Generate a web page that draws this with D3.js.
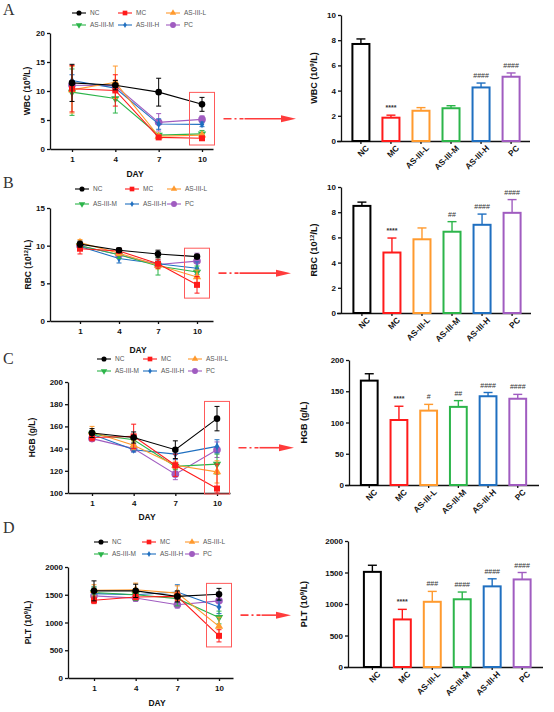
<!DOCTYPE html>
<html><head><meta charset="utf-8">
<script src="https://cdn.jsdelivr.net/npm/d3@7"></script>
<style>body{margin:0;background:#fff}svg{display:block}</style>
</head><body><svg id="c" width="554" height="712"></svg>
<script>
// ---------- data ----------
const days = [1, 4, 7, 10];
const groups = ["NC", "MC", "AS-III-L", "AS-III-M", "AS-III-H", "PC"];
const groupColors = ["#000000", "#ff1a1a", "#ff9a2e", "#2cb54a", "#1f6fc0", "#a05cc0"];

// WBC (10^9/L) over days, rows = groups
const wbcMean = [[11.4, 11.0, 9.8, 7.7], [10.4, 10.1, 2.0, 1.85], [10.2, 11.5, 2.2, 2.4], [9.8, 8.7, 2.4, 2.6], [11.8, 10.5, 4.3, 4.25], [11.0, 10.9, 4.6, 5.1]];
const wbcErr = [[3.2, 0.8, 2.4, 1.2], [4.0, 2.7, 0.3, 0.3], [4.0, 2.8, 0.3, 0.25], [4.0, 2.5, 0.3, 0.6], [1.0, 0.5, 0.9, 0.4], [0.8, 1.0, 1.5, 0.6]];
const wbcBar = [7.7, 1.85, 2.4, 2.6, 4.25, 5.1];
const wbcBarErr = [0.4, 0.2, 0.25, 0.2, 0.35, 0.3];
const wbcSig = ["", "****", "", "", "####", "####"];

// RBC (10^12/L)
const rbcMean = [[10.2, 9.4, 8.9, 8.55], [9.6, 9.3, 7.6, 4.8], [10.4, 9.0, 7.4, 5.85], [10.0, 8.8, 7.3, 6.5], [9.9, 8.3, 7.6, 7.0], [10.0, 8.8, 7.5, 7.95]];
const rbcErr = [[0.4, 0.3, 0.5, 0.3], [0.7, 0.3, 0.6, 1.1], [0.4, 0.3, 0.5, 0.9], [0.3, 0.5, 1.2, 0.8], [0.3, 0.6, 0.5, 0.85], [0.3, 0.3, 0.4, 1.05]];
const rbcBar = [8.5, 4.8, 5.85, 6.45, 7.0, 7.95];
const rbcBarErr = [0.3, 1.15, 0.9, 0.8, 0.85, 1.05];
const rbcSig = ["", "****", "", "##", "####", "####"];

// HGB (g/L)
const hgbMean = [[154, 150, 139, 167], [150, 151, 125, 104], [155, 143, 125, 119], [153, 148, 124, 126], [153, 139, 135, 142], [149, 140, 117, 139]];
const hgbErr = [[4, 5, 8, 11], [3, 11, 10, 22], [5, 4, 3, 10], [3, 4, 3, 9], [3, 2, 5, 6], [2, 3, 5, 7]];
const hgbBar = [167, 104, 119, 125, 142, 138];
const hgbBarErr = [11, 22, 10, 10, 6, 7];
const hgbSig = ["", "****", "#", "##", "####", "####"];

// PLT (10^9/L)
const pltMean = [[1570, 1570, 1470, 1510], [1400, 1460, 1470, 760], [1580, 1590, 1530, 930], [1540, 1500, 1430, 1090], [1520, 1500, 1550, 1280], [1480, 1440, 1320, 1390]];
const pltErr = [[180, 120, 100, 105], [60, 50, 80, 110], [100, 120, 130, 165], [100, 100, 130, 115], [120, 100, 130, 120], [80, 60, 60, 110]];
const pltBar = [1510, 755, 1035, 1075, 1280, 1390];
const pltBarErr = [105, 160, 165, 115, 120, 110];
const pltSig = ["", "****", "###", "####", "####", "####"];

// tick labels
const wbcLineTicks = [0, 5, 10, 15, 20];
const rbcLineTicks = [0, 5, 10, 15];
const hgbLineTicks = [100, 120, 140, 160, 180, 200];
const pltLineTicks = [0, 500, 1000, 1500, 2000];
const wbcBarTicks = [0, 2, 4, 6, 8, 10];
const rbcBarTicks = [0, 2, 4, 6, 8, 10];
const hgbBarTicks = [0, 50, 100, 150, 200];
const pltBarTicks = [0, 500, 1000, 1500, 2000];

// ---------- drawing ----------
const svg = d3.select("#c");
const SANS = "'Liberation Sans', Arial, sans-serif";
const symbolTypes = [d3.symbolCircle, d3.symbolSquare, d3.symbolTriangle, d3.symbolTriangle, d3.symbolDiamond, d3.symbolCircle];
const symbolSizes = [34, 36, 30, 30, 18, 46];
const symbolRot = [0, 0, 0, 180, 0, 0];
const fmt = d3.format("d");

function marker(g, i, x, y, scale) {
  g.append("path")
    .attr("d", d3.symbol().type(symbolTypes[i]).size(symbolSizes[i] * scale)())
    .attr("transform", `translate(${x},${y}) rotate(${symbolRot[i]})`)
    .attr("fill", groupColors[i]);
}

function titleText(g, x, y, base, sup, rest, size) {
  const t = g.append("text").attr("transform", `translate(${x},${y}) rotate(-90)`)
    .attr("text-anchor", "middle").attr("font-family", SANS).attr("font-weight", "bold")
    .attr("font-size", size).attr("fill", "#111");
  t.append("tspan").text(base);
  if (sup) {
    t.append("tspan").attr("dy", -3.5).attr("font-size", size * 0.68).text(sup);
    t.append("tspan").attr("dy", 3.5).text(rest);
  }
}

function styleAxis(g) {
  g.selectAll("path,line").attr("stroke", "#111").attr("stroke-width", 1.3);
  g.selectAll("text").attr("font-family", SANS).attr("font-weight", "bold").attr("font-size", 8).attr("fill", "#111");
}

function linePanel(c) {
  const g = svg.append("g");
  const x = d3.scaleLinear().domain([1, 10]).range([c.x1, c.x10]);
  const y = d3.scaleLinear().domain(c.yDom).range([c.yB, c.yT]);
  const xa = x.copy().domain([x.invert(c.ax), x.invert(c.xEnd)]).range([c.ax, c.xEnd]);
  g.append("g").attr("transform", `translate(0,${c.yB})`)
    .call(d3.axisBottom(xa).tickValues(days).tickFormat(fmt).tickSize(3).tickSizeOuter(0).tickPadding(4))
    .call(styleAxis);
  g.append("g").attr("transform", `translate(${c.ax},0)`)
    .call(d3.axisLeft(y).tickValues(c.ticks).tickFormat(fmt).tickSize(3).tickSizeOuter(0).tickPadding(2))
    .call(styleAxis);
  titleText(g, c.titleX, (c.yB + c.yT) / 2, c.tBase, c.tSup, c.tRest, 8.5);
  g.append("text").attr("x", c.dayX).attr("y", c.dayY).attr("text-anchor", "middle")
    .attr("font-family", SANS).attr("font-weight", "bold").attr("font-size", 8.5).attr("fill", "#111").text("DAY");
  const order = [5, 4, 3, 2, 1, 0];
  const line = d3.line().x((d, k) => x(days[k])).y(d => y(d));
  order.forEach(i => {
    const col = groupColors[i];
    const s = g.append("g");
    s.append("path").attr("d", line(c.mean[i])).attr("fill", "none").attr("stroke", col).attr("stroke-width", 1.1);
    c.mean[i].forEach((v, k) => {
      const cx = x(days[k]);
      const lo = Math.min(y(v - c.err[i][k]), c.yB), hi = y(v + c.err[i][k]);
      s.append("line").attr("x1", cx).attr("x2", cx).attr("y1", lo).attr("y2", hi).attr("stroke", col).attr("stroke-width", 1);
      [lo, hi].forEach(yy => s.append("line").attr("x1", cx - 2.5).attr("x2", cx + 2.5).attr("y1", yy).attr("y2", yy).attr("stroke", col).attr("stroke-width", 1));
      marker(s, i, cx, y(v), 1);
    });
  });
  // legend
  groups.forEach((name, i) => {
    const col = i % 3, row = Math.floor(i / 3);
    const lx = c.legX[col], ly = c.legY[row];
    g.append("line").attr("x1", lx).attr("x2", lx + 14).attr("y1", ly).attr("y2", ly).attr("stroke", groupColors[i]).attr("stroke-width", 1.1);
    marker(g, i, lx + 7, ly, 0.6);
    g.append("text").attr("x", lx + 18).attr("y", ly + 2.3).attr("font-family", SANS).attr("font-size", 6.5).attr("fill", "#555").text(name);
  });
  // highlight rectangle around day 10
  const tops = c.mean.map((m, i) => y(m[3] + c.err[i][3]));
  const bots = c.mean.map((m, i) => y(m[3] - c.err[i][3]));
  const rTop = d3.min(tops) - 5, rBot = Math.min(d3.max(bots) + 5, c.yB + 1);
  const rx = x(10) - 12.5;
  g.append("rect").attr("x", rx).attr("y", rTop).attr("width", 25).attr("height", rBot - rTop)
    .attr("fill", "none").attr("stroke", "#ff5a5a").attr("stroke-width", 1);
  // arrow
  const ay = (rTop + rBot) / 2, a0 = rx + 34, a1 = c.arrowEnd;
  g.append("line").attr("x1", a0).attr("x2", a0 + 20).attr("y1", ay).attr("y2", ay)
    .attr("stroke", "#ff3b3b").attr("stroke-width", 1.6).attr("stroke-dasharray", "8,3,2,3");
  g.append("line").attr("x1", a0 + 21).attr("x2", a1 - 12).attr("y1", ay).attr("y2", ay)
    .attr("stroke", "#ff3b3b").attr("stroke-width", 1.6);
  g.append("path").attr("d", `M${a1 - 15},${ay - 3.5}L${a1},${ay}L${a1 - 15},${ay + 3.5}Z`).attr("fill", "#ff3b3b");
}

function barPanel(c) {
  const g = svg.append("g");
  const x = d3.scaleBand().domain(groups).range([c.b0, c.b1]).paddingInner(0.367).paddingOuter(0.18);
  const y = d3.scaleLinear().domain([c.ticks[0], c.ticks[c.ticks.length - 1]]).range([c.yB, c.yT]);
  const xa = g.append("g").attr("transform", `translate(0,${c.yB})`)
    .call(d3.axisBottom(x).tickSize(3).tickSizeOuter(0).tickPadding(3));
  xa.select(".domain").attr("d", `M${c.ax - 4},0.5H${c.xEnd}`);
  xa.call(styleAxis);
  xa.selectAll(".tick text").attr("font-size", 8.3).attr("text-anchor", "end").attr("transform", "translate(2,0) rotate(-45)").attr("dy", "0.5em").attr("dx", "-0.1em");
  g.append("g").attr("transform", `translate(${c.ax},0)`)
    .call(d3.axisLeft(y).tickValues(c.ticks).tickFormat(fmt).tickSize(3).tickSizeOuter(0).tickPadding(2))
    .call(styleAxis);
  titleText(g, c.titleX, (c.yB + c.yT) / 2, c.tBase, c.tSup, c.tRest, 9);
  groups.forEach((name, i) => {
    const col = groupColors[i];
    const bx = x(name), bw = x.bandwidth(), cx = bx + bw / 2;
    const top = y(c.vals[i]), et = y(c.vals[i] + c.errs[i]);
    g.append("line").attr("x1", cx).attr("x2", cx).attr("y1", top).attr("y2", et).attr("stroke", col).attr("stroke-width", 1.4);
    g.append("line").attr("x1", cx - 4.5).attr("x2", cx + 4.5).attr("y1", et).attr("y2", et).attr("stroke", col).attr("stroke-width", 1.4);
    g.append("rect").attr("x", bx + 1).attr("y", top).attr("width", bw - 2).attr("height", c.yB - top)
      .attr("fill", "#fff").attr("stroke", col).attr("stroke-width", 2);
    if (c.sig[i]) g.append("text").attr("x", cx).attr("y", et - 5).attr("text-anchor", "middle")
      .attr("font-family", SANS).attr("font-size", 7).attr("font-weight", c.sig[i][0] === "*" ? "bold" : "normal").attr("fill", "#333").text(c.sig[i]);
  });
}

// panel letters
[["A", 15], ["B", 188], ["C", 364], ["D", 533]].forEach(([t, yy]) =>
  svg.append("text").attr("x", 3).attr("y", yy).attr("font-family", "'Liberation Serif', 'DejaVu Serif', serif").attr("font-size", 16).attr("fill", "#333").text(t));

linePanel({ mean: wbcMean, err: wbcErr, ticks: wbcLineTicks, yDom: [0, 20], yB: 149, yT: 33, ax: 50, x1: 72, x10: 202, xEnd: 213,
  titleX: 30, tBase: "WBC (10", tSup: "9", tRest: "/L)", dayX: 135, dayY: 177, legX: [72, 118, 166], legY: [13, 25], arrowEnd: 296 });
linePanel({ mean: rbcMean, err: rbcErr, ticks: rbcLineTicks, yDom: [0, 15], yB: 321, yT: 208, ax: 50, x1: 80, x10: 197, xEnd: 213,
  titleX: 31, tBase: "RBC (10", tSup: "12", tRest: "/L)", dayX: 138, dayY: 353, legX: [75, 125, 167], legY: [189, 204], arrowEnd: 291 });
linePanel({ mean: hgbMean, err: hgbErr, ticks: hgbLineTicks, yDom: [100, 200], yB: 493, yT: 382, ax: 68, x1: 92, x10: 217, xEnd: 230,
  titleX: 35, tBase: "HGB (g/L)", dayX: 147, dayY: 520, legX: [97, 143, 188], legY: [359, 371], arrowEnd: 294 });
linePanel({ mean: pltMean, err: pltErr, ticks: pltLineTicks, yDom: [0, 2000], yB: 678, yT: 567, ax: 68, x1: 94, x10: 219, xEnd: 233,
  titleX: 31, tBase: "PLT (10", tSup: "9", tRest: "/L)", dayX: 157, dayY: 706, legX: [94, 142, 185], legY: [542, 554], arrowEnd: 291 });

barPanel({ vals: wbcBar, errs: wbcBarErr, sig: wbcSig, ticks: wbcBarTicks, yB: 141, yT: 15, ax: 341, b0: 346, b1: 526, xEnd: 530,
  titleX: 317, tBase: "WBC (10", tSup: "9", tRest: "/L)" });
barPanel({ vals: rbcBar, errs: rbcBarErr, sig: rbcSig, ticks: rbcBarTicks, yB: 313, yT: 187, ax: 341, b0: 347, b1: 527, xEnd: 531,
  titleX: 317, tBase: "RBC (10", tSup: "12", tRest: "/L)" });
barPanel({ vals: hgbBar, errs: hgbBarErr, sig: hgbSig, ticks: hgbBarTicks, yB: 485, yT: 360, ax: 349, b0: 354.5, b1: 532.5, xEnd: 539,
  titleX: 307, tBase: "HGB (g/L)" });
barPanel({ vals: pltBar, errs: pltBarErr, sig: pltSig, ticks: pltBarTicks, yB: 667, yT: 541, ax: 348, b0: 357.5, b1: 537, xEnd: 543,
  titleX: 307, tBase: "PLT (10", tSup: "9", tRest: "/L)" });
</script></body></html>
